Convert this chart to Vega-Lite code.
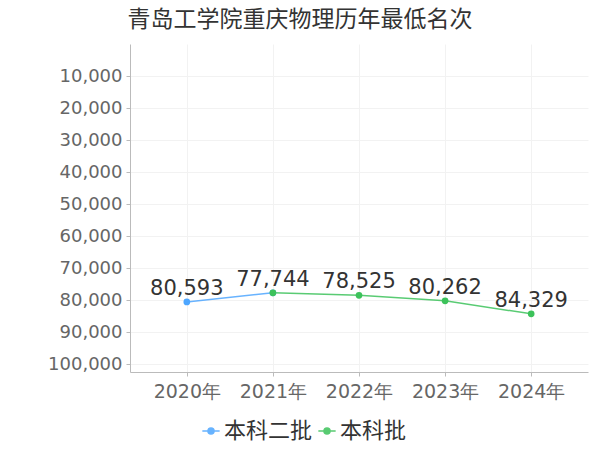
{
  "$schema": "https://vega.github.io/schema/vega-lite/v6.json",
  "autosize": {"type": "none"},
  "padding": {"left": 130, "top": 44, "right": 12, "bottom": 78},
  "width": 458,
  "height": 328,
  "title": {
    "text": "青岛工学院重庆物理历年最低名次",
    "anchor": "middle",
    "dx": -59,
    "offset": 12,
    "fontSize": 23,
    "fontWeight": "normal",
    "font": "Noto Sans CJK SC",
    "color": "#333333"
  },
  "config": {
    "view": {"stroke": null},
    "font": "DejaVu Sans",
    "axis": {
      "labelFont": "DejaVu Sans",
      "labelFontSize": 18,
      "labelColor": "#666666",
      "gridColor": "#f2f2f2",
      "domainColor": "#bbbbbb",
      "tickColor": "#bbbbbb",
      "tickSize": 4
    }
  },
  "data": {
    "values": [
      {"year": "2020年", "series": "本科二批", "rank": 80593, "show": true},
      {"year": "2021年", "series": "本科二批", "rank": 77744, "show": false},
      {"year": "2021年", "series": "本科批", "rank": 77744, "show": true},
      {"year": "2022年", "series": "本科批", "rank": 78525, "show": true},
      {"year": "2023年", "series": "本科批", "rank": 80262, "show": true},
      {"year": "2024年", "series": "本科批", "rank": 84329, "show": true}
    ]
  },
  "encoding": {
    "x": {
      "field": "year",
      "type": "ordinal",
      "scale": {"type": "point", "padding": 0.66},
      "axis": {"title": null, "labelAngle": 0, "grid": true, "labelPadding": 6, "labelFontSize": 19}
    },
    "y": {
      "field": "rank",
      "type": "quantitative",
      "scale": {"domain": [0, 102500], "reverse": true, "nice": false, "zero": false},
      "axis": {
        "title": null,
        "values": [10000, 20000, 30000, 40000, 50000, 60000, 70000, 80000, 90000, 100000],
        "format": ",d",
        "grid": true,
        "labelPadding": 4
      }
    },
    "color": {
      "field": "series",
      "type": "nominal",
      "scale": {"domain": ["本科二批", "本科批"], "range": ["#4da6ff", "#3cc25a"]},
      "legend": {
        "title": null,
        "orient": "none",
        "direction": "horizontal",
        "legendX": 70,
        "legendY": 376,
        "labelFont": "Noto Sans CJK SC",
        "labelFontSize": 22,
        "labelColor": "#333333",
        "symbolType": "M-1,0L1,0M-0.35,0A0.35,0.35 0 1,1 0.35,0A0.35,0.35 0 1,1 -0.35,0",
        "symbolSize": 300,
        "symbolStrokeWidth": 1.5,
        "labelOffset": 2,
        "columnPadding": 2
      }
    }
  },
  "layer": [
    {"mark": {"type": "line", "strokeWidth": 1.5, "opacity": 0.85}},
    {"mark": {"type": "point", "filled": true, "size": 45, "opacity": 1}},
    {
      "transform": [{"filter": "datum.show"}],
      "mark": {"type": "text", "baseline": "bottom", "dy": -3, "fontSize": 21, "color": "#333333", "font": "DejaVu Sans"},
      "encoding": {
        "text": {"field": "rank", "type": "quantitative", "format": ",d"},
        "color": {"value": "#333333"}
      }
    }
  ]
}
